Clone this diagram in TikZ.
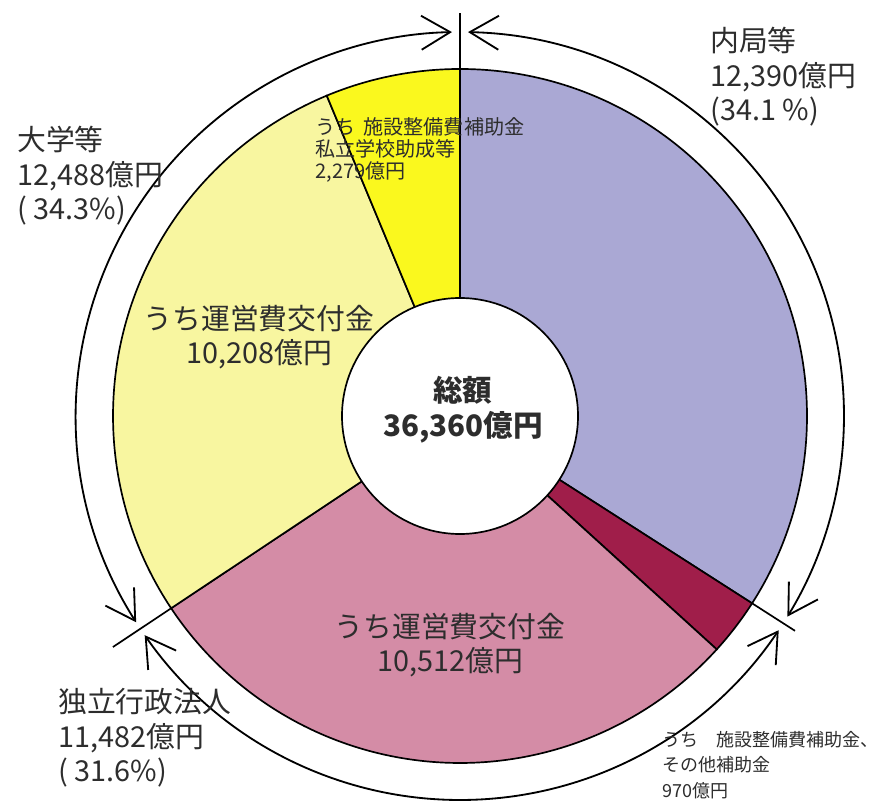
\documentclass[tikz,border=0pt]{standalone}
\usepackage{fontspec}
\setmainfont{Noto Sans CJK JP}
\usetikzlibrary{arrows.meta}
\definecolor{naikyoku}{RGB}{170,168,212}
\definecolor{dokuhou}{RGB}{212,140,166}
\definecolor{dokuhousub}{RGB}{160,30,74}
\definecolor{daigaku}{RGB}{248,246,160}
\definecolor{daigakusub}{RGB}{250,248,30}
\definecolor{inkgray}{RGB}{45,45,45}
\tikzset{
	slice/.style={line width=1.2pt, draw=black},
	spanarrow/.style={line width=1.3pt, {Straight Barb[length=0.72cm,width=0.85cm]}-{Straight Barb[length=0.72cm,width=0.85cm]}},
	outerlabel/.style={align=left, anchor=west, inner sep=0pt, text=inkgray, font=\fontsize{20.5}{24.5}\selectfont},
	innerlabel/.style={align=center, inner sep=0pt, text=inkgray, font=\fontsize{20.5}{24.5}\selectfont},
	smalllabel/.style={align=left, anchor=west, inner sep=0pt, text=inkgray}
}
\begin{document}
\begin{tikzpicture}[x=0.025cm, y=0.025cm]
		\def\R{347}
		\def\A{384}
		\useasboundingbox (-460,-385) rectangle (420,416);
		\coordinate (C) at (0,0);
		% slices, clockwise from the top
		\filldraw[slice, fill=naikyoku] (C) -- (90:\R) arc[start angle=90, end angle=-32.67, radius=\R] -- cycle;
		\filldraw[slice, fill=dokuhousub] (C) -- (-32.67:\R) arc[start angle=-32.67, end angle=-42.27, radius=\R] -- cycle;
		\filldraw[slice, fill=dokuhou] (C) -- (-42.27:\R) arc[start angle=-42.27, end angle=-146.35, radius=\R] -- cycle;
		\filldraw[slice, fill=daigaku] (C) -- (-146.35:\R) arc[start angle=-146.35, end angle=-247.42, radius=\R] -- cycle;
		\filldraw[slice, fill=daigakusub] (C) -- (112.58:\R) arc[start angle=112.58, end angle=90, radius=\R] -- cycle;
		\draw[slice, fill=white] (C) circle (118);
		\node[innerlabel, font=\fontsize{21}{25}\selectfont\bfseries] (total) at (3,6) {総額\\36,360億円};
		% dividers
		\coordinate (D0) at (90:\R);
		\coordinate (E0) at (90:403);
		\coordinate (D1) at (-32.67:\R);
		\coordinate (E1) at (-32.67:398);
		\coordinate (D2) at (-146.35:\R);
		\coordinate (E2) at (-146.35:417);
		\draw[slice] (D0) -- (E0);
		\draw[slice] (D1) -- (E1);
		\draw[slice] (D2) -- (E2);
		% spans
		\draw[spanarrow] (88.8:\A) arc[start angle=88.8, end angle=-31.5, radius=\A];
		\draw[spanarrow] (-33.9:\A) arc[start angle=-33.9, end angle=-145.2, radius=\A];
		\draw[spanarrow] (212.5:\A) arc[start angle=212.5, end angle=91.2, radius=\A];
		% labels
		\node[outerlabel] (naikyoku) at (250,339) {内局等\\12,390億円\\(34.1 \%)};
		\node[outerlabel] (daigaku) at (-443,240) {大学等\\12,488億円\\( 34.3\%)};
		\node[outerlabel] (dokuhou) at (-402,-322) {独立行政法人\\11,482億円\\( 31.6\%)};
		\node[innerlabel] (daigakuunei) at (-201,79) {うち運営費交付金\\10,208億円};
		\node[innerlabel] (dokuhouunei) at (-10,-229) {うち運営費交付金\\10,512億円};
		\node[smalllabel, font=\fontsize{14.3}{15.6}\selectfont] (daigakuhojo) at (-145,266) {うち\hspace{0.4em}施設整備費補助金\\私立学校助成等\\2,279億円};
		\node[smalllabel, font=\fontsize{12.8}{18}\selectfont] (dokuhouhojo) at (202,-349) {うち　施設整備費補助金、\\その他補助金\\970億円};
\end{tikzpicture}
\end{document}
